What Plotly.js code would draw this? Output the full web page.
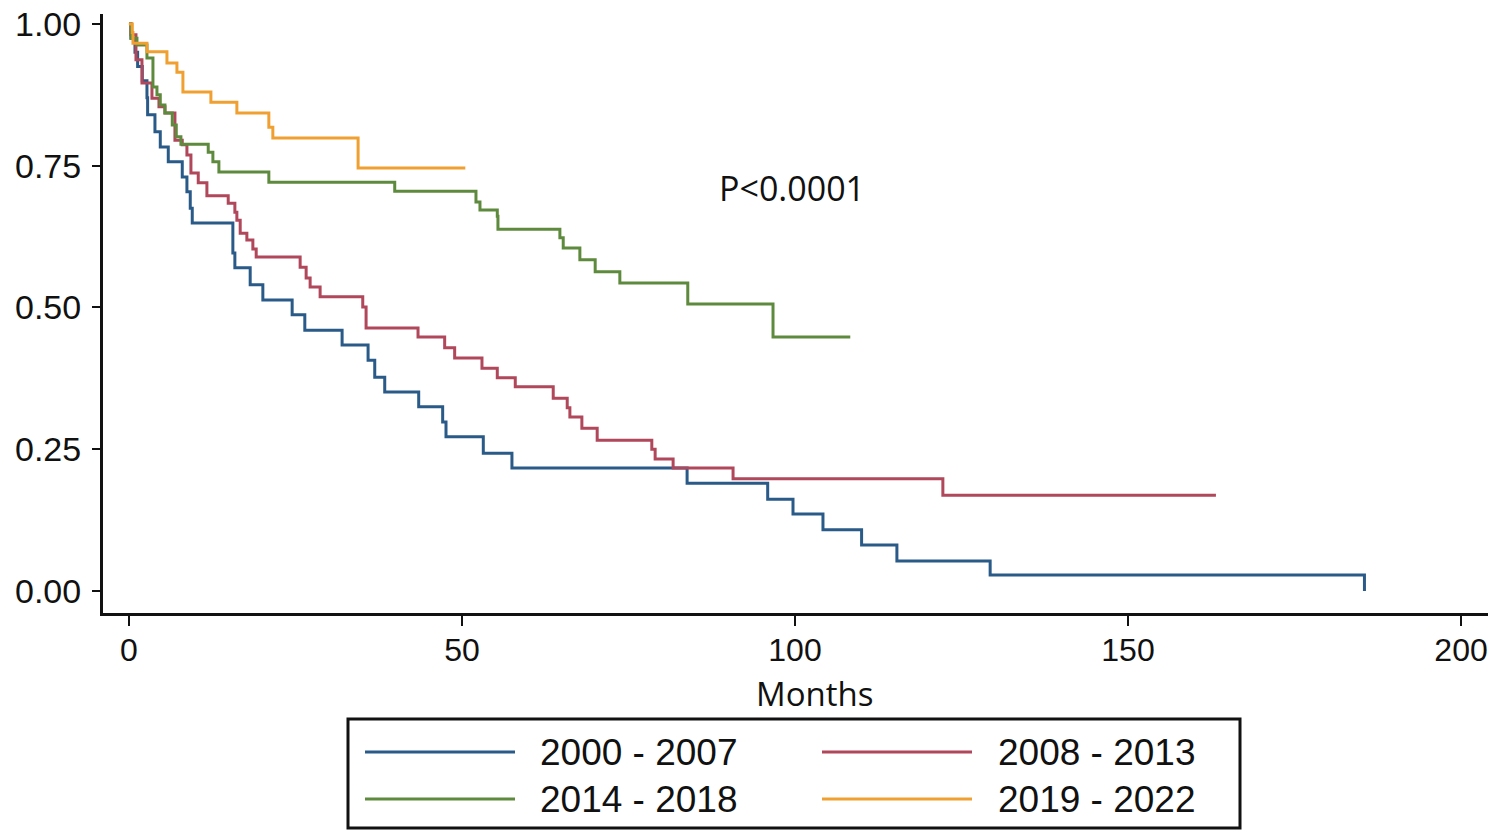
<!DOCTYPE html>
<html>
<head>
<meta charset="utf-8">
<script src="https://cdn.plot.ly/plotly-3.0.1.min.js"></script>
<style>html,body{margin:0;padding:0;background:#fff;}#chart{width:1500px;height:833px;}</style>
</head>
<body>
<div id="chart"></div>
<script>
// Kaplan-Meier step data (months, survival)
const seriesNames = ["2000 - 2007", "2008 - 2013", "2014 - 2018", "2019 - 2022"];
const seriesColors = ["#2a5a88", "#b0475a", "#5e8a3e", "#f0a030"];

const t2000 = [0, 0.3, 0.9, 1.3, 2.0, 2.7, 2.8, 3.9, 4.7, 5.9, 8.0, 8.7, 9.2, 9.5, 15.6, 15.9, 18.2, 20.1, 24.5, 26.4, 32.0, 35.9, 36.9, 38.4, 43.5, 47.1, 47.6, 53.2, 57.5, 83.8, 95.9, 99.7, 104.2, 110.0, 115.3, 129.3, 185.5, 185.5];
const s2000 = [1.0, 0.975, 0.95, 0.925, 0.90, 0.87, 0.840, 0.810, 0.783, 0.757, 0.730, 0.704, 0.675, 0.649, 0.596, 0.570, 0.540, 0.513, 0.487, 0.460, 0.434, 0.407, 0.377, 0.351, 0.325, 0.298, 0.272, 0.243, 0.217, 0.190, 0.162, 0.136, 0.108, 0.081, 0.053, 0.028, 0.028, 0.0];

const t2008 = [0, 0.3, 1.05, 1.95, 3.45, 4.5, 5.4, 6.9, 8.0, 8.7, 9.3, 10.4, 11.7, 14.9, 15.9, 16.2, 16.7, 17.7, 18.6, 19.1, 25.7, 26.6, 27.2, 28.7, 35.1, 35.6, 43.4, 47.4, 48.9, 53.0, 55.3, 58.0, 63.7, 65.8, 66.2, 68.0, 70.3, 78.5, 79.0, 81.7, 90.7, 122.2, 163.2];
const s2008 = [1.0, 0.981, 0.937, 0.896, 0.869, 0.854, 0.843, 0.795, 0.787, 0.769, 0.737, 0.720, 0.697, 0.684, 0.668, 0.654, 0.631, 0.619, 0.603, 0.589, 0.571, 0.552, 0.536, 0.519, 0.501, 0.464, 0.448, 0.429, 0.411, 0.393, 0.376, 0.360, 0.340, 0.323, 0.307, 0.287, 0.266, 0.250, 0.233, 0.217, 0.198, 0.169, 0.169];

const t2014 = [0, 0.3, 1.2, 2.7, 3.6, 4.2, 4.7, 5.4, 6.5, 7.1, 7.8, 11.9, 12.6, 13.5, 21.0, 39.9, 52.1, 52.7, 55.3, 55.4, 64.7, 65.2, 67.7, 70.0, 73.7, 83.9, 96.7, 108.3];
const s2014 = [1.0, 0.975, 0.963, 0.940, 0.889, 0.875, 0.857, 0.843, 0.822, 0.801, 0.788, 0.774, 0.757, 0.739, 0.721, 0.705, 0.686, 0.672, 0.661, 0.638, 0.623, 0.605, 0.584, 0.563, 0.543, 0.506, 0.448, 0.448];

const t2019 = [0, 0.5, 0.6, 2.7, 5.7, 7.2, 8.1, 12.3, 16.2, 21.0, 21.6, 34.4, 50.5];
const s2019 = [1.0, 0.985, 0.966, 0.951, 0.931, 0.915, 0.880, 0.862, 0.843, 0.818, 0.799, 0.746, 0.746];

const xTickVals = [0, 50, 100, 150, 200];
const yTickVals = [0, 0.25, 0.5, 0.75, 1.0];
const xTitle = "Months";
const pText = "P<0.0001";

const allT = [t2000, t2008, t2014, t2019];
const allS = [s2000, s2008, s2014, s2019];

const traces = allT.map((t, i) => ({
  x: t, y: allS[i], type: "scatter", mode: "lines", name: seriesNames[i],
  line: {shape: "hv", color: seriesColors[i], width: 3},
  showlegend: false, hoverinfo: "skip"
}));

// custom legend in paper coordinates (box + samples + labels)
const W = 1500, H = 833, ml = 103, mr = 12, mt = 14, mb = 220;
const pw = W - ml - mr, ph = H - mt - mb;
const px = v => (v - ml) / pw;
const py = v => (H - mb - v) / ph;

const shapes = [{
  type: "rect", xref: "paper", yref: "paper",
  x0: px(348), x1: px(1240), y0: py(828), y1: py(719),
  line: {color: "#111", width: 3}, fillcolor: "rgba(0,0,0,0)"
}];
const annotations = [{
  text: pText, xref: "x", yref: "y", x: 99.5, y: 0.711, xanchor: "center", yanchor: "middle",
  showarrow: false, font: {family: "Open Sans", size: 34, color: "#111"}
}, {
  text: xTitle, xref: "paper", yref: "paper", x: px(815), y: py(693), xanchor: "center", yanchor: "middle",
  showarrow: false, font: {family: "Open Sans", size: 33, color: "#111"}
}];
const legPos = [
  {lx0: 365, lx1: 515, tx: 538, y: 752},
  {lx0: 822, lx1: 972, tx: 996, y: 752},
  {lx0: 365, lx1: 515, tx: 538, y: 799},
  {lx0: 822, lx1: 972, tx: 996, y: 799}
];
seriesNames.forEach((n, i) => {
  const p = legPos[i];
  shapes.push({type: "line", xref: "paper", yref: "paper", x0: px(p.lx0), x1: px(p.lx1), y0: py(p.y), y1: py(p.y),
    line: {color: seriesColors[i], width: 3}});
  annotations.push({text: n, xref: "paper", yref: "paper", x: px(p.tx), y: py(p.y), xanchor: "left", yanchor: "middle",
    showarrow: false, font: {family: "Liberation Sans, Arial, sans-serif", size: 37, color: "#111"}});
});

const layout = {
  width: W, height: H,
  margin: {l: ml, r: mr, t: mt, b: mb, pad: 0},
  paper_bgcolor: "#fff", plot_bgcolor: "#fff",
  font: {family: "Liberation Sans, Arial, sans-serif", color: "#111"},
  xaxis: {
    range: [-3.9, 204.05], tickvals: xTickVals, ticks: "outside", ticklen: 10, tickwidth: 2, tickcolor: "#111",
    showline: true, linecolor: "#111", linewidth: 3, showgrid: false, zeroline: false,
    tickfont: {size: 32, color: "#111"}, ticklabelstandoff: -3
  },
  yaxis: {
    range: [-0.0388, 1.0176], tickvals: yTickVals, tickformat: ".2f", ticks: "outside", ticklen: 8, tickwidth: 2, tickcolor: "#111",
    showline: true, linecolor: "#111", linewidth: 3, showgrid: false, zeroline: false,
    tickfont: {size: 34, color: "#111"}, ticklabelstandoff: 4
  },
  shapes: shapes,
  annotations: annotations
};

Plotly.newPlot("chart", traces, layout, {staticPlot: true, displayModeBar: false});
</script>
</body>
</html>
